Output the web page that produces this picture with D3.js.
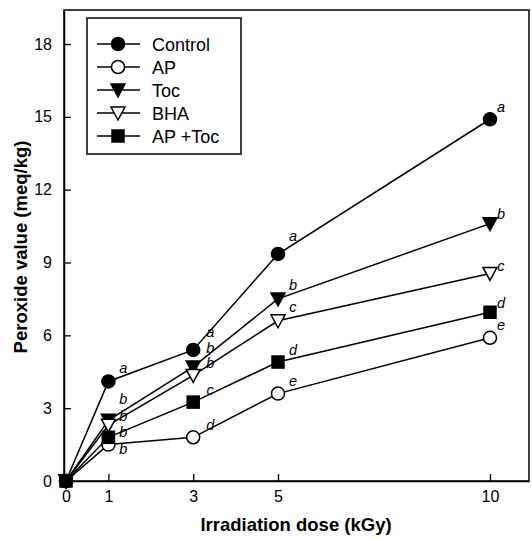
<!DOCTYPE html>
<html>
<head>
<meta charset="utf-8">
<script src="https://cdn.jsdelivr.net/npm/d3@7"></script>
<style>
  body { margin: 0; background: #fff; }
  svg { font-family: "Liberation Sans", Arial, sans-serif; }
</style>
</head>
<body>
<svg id="chart" width="532" height="541"></svg>
<script>
// doses (kGy)
const doses = [0, 1, 3, 5, 10];
const seriesNames = ["Control", "AP", "Toc", "BHA", "AP +Toc"];
// peroxide values (meq/kg)
const control = [0, 4.1, 5.4, 9.35, 14.9];
const ap = [0, 1.5, 1.8, 3.6, 5.9];
const toc = [0, 2.5, 4.7, 7.5, 10.6];
const bha = [0, 2.3, 4.35, 6.6, 8.55];
const apToc = [0, 1.8, 3.25, 4.9, 6.95];
// significance letters per point (none at dose 0)
const controlLetters = ["", "a", "a", "a", "a"];
const apLetters = ["", "b", "d", "e", "e"];
const tocLetters = ["", "b", "b", "b", "b"];
const bhaLetters = ["", "b", "b", "c", "c"];
const apTocLetters = ["", "b", "c", "d", "d"];
const xTicks = [0, 1, 3, 5, 10];
const yTicks = [0, 3, 6, 9, 12, 15, 18];

const svg = d3.select("#chart");
const margin = { top: 10, right: 3, bottom: 60, left: 64 };
const W = 532, H = 541;
const x = d3.scaleLinear().domain([0, 10.92]).range([66, W - margin.right]);
const y = d3.scaleLinear().domain([0, 19.4]).range([481, margin.top]);

const series = [
  { name: seriesNames[0], values: control, letters: controlLetters, shape: "circle", fill: "#000" },
  { name: seriesNames[1], values: ap, letters: apLetters, shape: "circle", fill: "#fff" },
  { name: seriesNames[2], values: toc, letters: tocLetters, shape: "tridown", fill: "#000" },
  { name: seriesNames[3], values: bha, letters: bhaLetters, shape: "tridown", fill: "#fff" },
  { name: seriesNames[4], values: apToc, letters: apTocLetters, shape: "square", fill: "#000" }
];

// frame
svg.append("rect")
  .attr("x", margin.left).attr("y", margin.top)
  .attr("width", W - margin.right - margin.left).attr("height", 481 - margin.top)
  .attr("fill", "none").attr("stroke", "#000").attr("stroke-width", 1.5);

// axes with inward ticks
const xAxis = svg.append("g").attr("transform", "translate(0,481)")
  .call(d3.axisBottom(x).tickValues(xTicks).tickSizeInner(-7).tickSizeOuter(0).tickPadding(10));
const yAxis = svg.append("g").attr("transform", `translate(${margin.left},0)`)
  .call(d3.axisLeft(y).tickValues(yTicks).tickSizeInner(-7).tickSizeOuter(0).tickPadding(12));
[xAxis, yAxis].forEach(g => {
  g.select(".domain").attr("stroke-width", 1.5);
  g.selectAll(".tick line").attr("stroke-width", 1.3);
  g.selectAll("text").style("font-size", "16px").style("font-family", "Liberation Sans, Arial, sans-serif").attr("fill", "#000");
});

svg.append("text")
  .attr("x", 296).attr("y", 531)
  .attr("text-anchor", "middle")
  .style("font-size", "18.5px").style("font-weight", "bold")
  .text("Irradiation dose (kGy)");
svg.append("text")
  .attr("transform", "translate(27,247) rotate(-90)")
  .attr("text-anchor", "middle")
  .style("font-size", "18.5px").style("font-weight", "bold")
  .text("Peroxide value (meq/kg)");

function marker(g, shape, fill) {
  if (shape === "circle") {
    g.append("circle").attr("r", 6.5);
  } else if (shape === "square") {
    g.append("rect").attr("x", -6).attr("y", -6).attr("width", 12).attr("height", 12);
  } else {
    g.append("path").attr("d", "M-7,-6L7,-6L0,7Z");
  }
  g.selectAll("*").attr("fill", fill).attr("stroke", "#000").attr("stroke-width", 1.5);
}

const line = d3.line().x((d, i) => x(doses[i])).y(d => y(d));

// letter placement (pixels from the marker centre), by series and dose index
const labelDx = [0, 15, 17, 15, 11];
const labelDy = {
  "Control": [0, -14, -18, -18, -12],
  "Toc": [0, -21, -19, -14, -10],
  "BHA": [0, -9, -12, -14, -7],
  "AP +Toc": [0, -5, -12, -12, -9],
  "AP": [0, 4, -12, -13, -13]
};

series.forEach(s => {
  svg.append("path").datum(s.values)
    .attr("d", line).attr("fill", "none").attr("stroke", "#000").attr("stroke-width", 1.5);
});
series.forEach(s => {
  s.values.forEach((v, i) => {
    const g = svg.append("g").attr("transform", `translate(${x(doses[i])},${y(v)})`);
    marker(g, s.shape, s.fill);
    if (s.letters[i]) {
      svg.append("text")
        .attr("x", x(doses[i]) + labelDx[i]).attr("y", y(v) + labelDy[s.name][i])
        .attr("text-anchor", "middle").attr("dy", "0.35em")
        .style("font-size", "14.5px").style("font-style", "italic")
        .text(s.letters[i]);
    }
  });
});

// legend
const legend = svg.append("g");
legend.append("rect")
  .attr("x", 87).attr("y", 18).attr("width", 154).attr("height", 136)
  .attr("fill", "#fff").attr("stroke", "#000").attr("stroke-width", 1.5);
series.forEach((s, i) => {
  const ly = 44 + i * 23;
  legend.append("line").attr("x1", 97).attr("x2", 140).attr("y1", ly).attr("y2", ly)
    .attr("stroke", "#000").attr("stroke-width", 1.5);
  marker(legend.append("g").attr("transform", `translate(118,${ly})`), s.shape, s.fill);
  legend.append("text").attr("x", 152).attr("y", ly + 6.5)
    .style("font-size", "18px").text(s.name);
});
</script>
</body>
</html>
